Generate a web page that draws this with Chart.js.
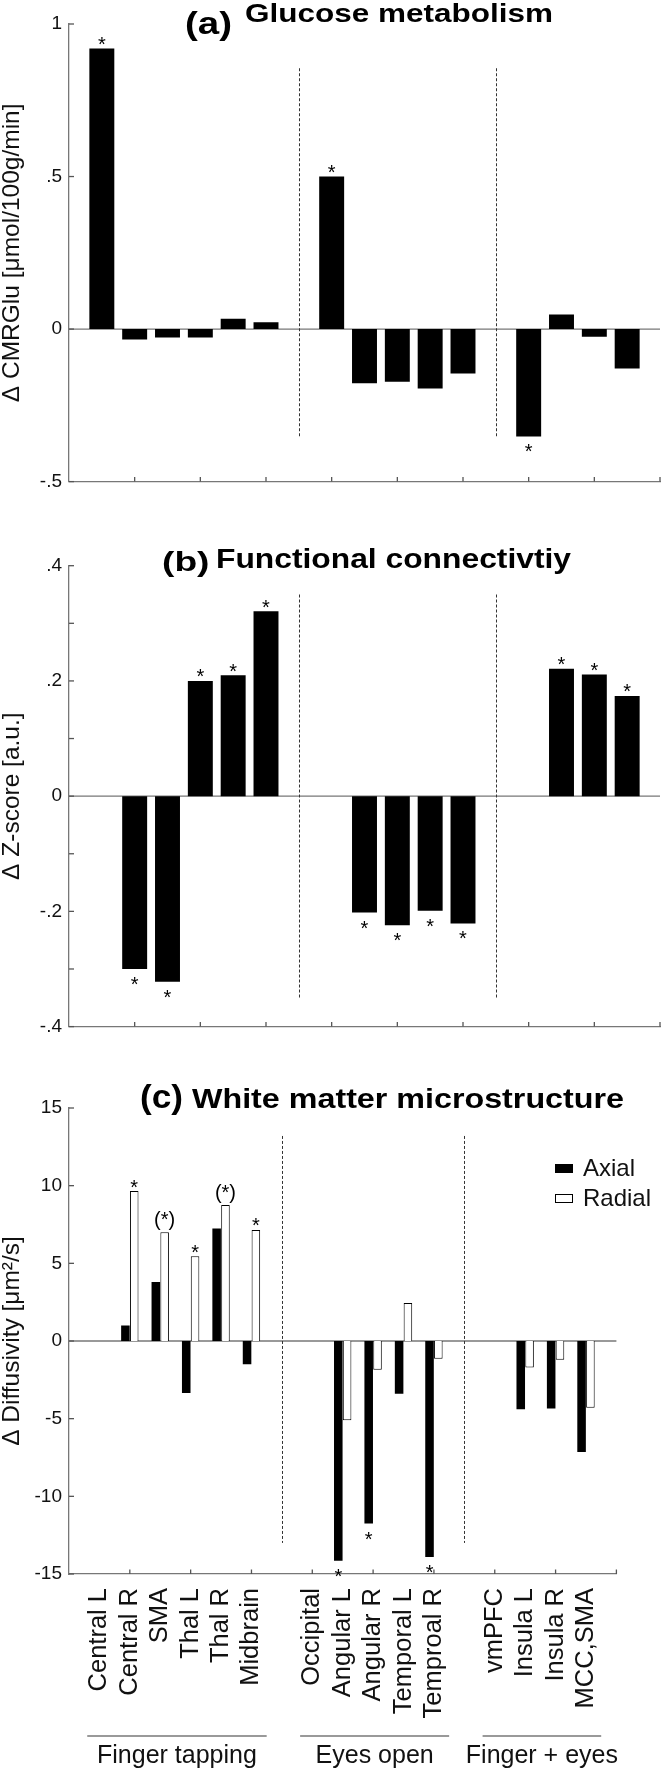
<!DOCTYPE html>
<html>
<head>
<meta charset="utf-8">
<script src="https://cdn.jsdelivr.net/npm/chart.js@4.4.1/dist/chart.umd.min.js"></script>
<style>
html, body { margin: 0; padding: 0; background: #fff; }
#wrap { position: relative; width: 661px; height: 1768px; }
#wrap canvas { position: absolute; left: 0; }
</style>
</head>
<body>
<div id="wrap">
  <canvas id="glu" width="661" height="500" style="top:0px"></canvas>
  <canvas id="fc" width="661" height="545" style="top:500px"></canvas>
  <canvas id="wm" width="661" height="723" style="top:1045px"></canvas>
</div>
<script>
// regions, grouped by task
var groupNames = ['Finger tapping', 'Eyes open', 'Finger + eyes'];
var fingerRegions = ['Central L', 'Central R', 'SMA', 'Thal L', 'Thal R', 'Midbrain'];
var eyesRegions = ['Occipital', 'Angular L', 'Angular R', 'Temporal L', 'Temproal R'];
var bothRegions = ['vmPFC', 'Insula L', 'Insula R', 'MCC,SMA'];

// (a) glucose metabolism
var glucose = [0.92, -0.034, -0.028, -0.028, 0.034, 0.022, 0.50, -0.178, -0.173, -0.195, -0.146, -0.352, 0.048, -0.025, -0.129];
var glucoseSig = ['*', '', '', '', '', '', '*', '', '', '', '', '*', '', '', ''];

// (b) functional connectivity
var connectivity = [null, -0.300, -0.322, 0.200, 0.210, 0.321, null, -0.202, -0.224, -0.199, -0.221, null, 0.221, 0.211, 0.174];
var connectivitySig = ['', '*', '*', '*', '*', '*', '', '*', '*', '*', '*', '', '*', '*', '*'];

// (c) white matter
var axial = [null, 1.0, 3.8, -3.35, 7.25, -1.5, null, -14.15, -11.75, -3.4, -13.9, null, -4.4, -4.35, -7.15];
var radial = [null, 9.65, 7.0, 5.45, 8.75, 7.15, null, -5.1, -1.85, 2.45, -1.15, null, -1.7, -1.2, -4.3];
var axialSig = ['', '', '', '', '', '', '', '*', '*', '', '*', '', '', '', ''];
var radialSig = ['', '*', '(*)', '*', '(*)', '*', '', '', '', '', '', '', '', '', ''];

var FONT = '"Liberation Sans", Arial, Helvetica, sans-serif';
var AXIS = '#777';

var regionGroups = [fingerRegions, eyesRegions, bothRegions];
var slotLabels = [''];
var groupSpans = [];
regionGroups.forEach(function (g) {
  var first = slotLabels.length;
  slotLabels = slotLabels.concat(g);
  groupSpans.push([first, slotLabels.length - 1]);
  slotLabels.push('');
});
var dividers = [groupSpans[0][1] + 1, groupSpans[1][1] + 1];

function toSlots(values) {
  var out = [null], k = 0;
  regionGroups.forEach(function (g) {
    g.forEach(function () { out.push(values[k++]); });
    out.push(null);
  });
  return out;
}

function fmt(v) {
  var s = String(+v.toFixed(2));
  return s.replace(/^(-?)0\./, '$1.');
}

function drawTitle(ctx, t) {
  ctx.save();
  ctx.fillStyle = '#000';
  ctx.textAlign = 'left';
  ctx.textBaseline = 'alphabetic';
  t.forEach(function (p) {
    ctx.font = 'bold ' + p.size + 'px ' + FONT;
    var sx = p.w / ctx.measureText(p.text).width;
    ctx.save();
    ctx.translate(p.x, p.y);
    ctx.scale(sx, 1);
    ctx.fillText(p.text, 0, 0);
    ctx.restore();
  });
  ctx.restore();
}

function decor(cfg) {
  return {
    id: 'decor',
    beforeDatasetsDraw: function (chart) {
      var ctx = chart.ctx, a = chart.chartArea, y = chart.scales.y, x = chart.scales.x;
      ctx.save();
      // zero line
      ctx.strokeStyle = AXIS;
      ctx.lineWidth = 1.3;
      ctx.beginPath();
      ctx.moveTo(a.left, y.getPixelForValue(0));
      ctx.lineTo(a.right, y.getPixelForValue(0));
      ctx.stroke();
      // dashed separators
      ctx.strokeStyle = '#333';
      ctx.lineWidth = 1;
      ctx.setLineDash([3, 2]);
      dividers.forEach(function (d) {
        var px = Math.round(x.getPixelForValue(d)) + 0.5;
        ctx.beginPath();
        ctx.moveTo(px, y.getPixelForValue(cfg.divider[1]));
        ctx.lineTo(px, y.getPixelForValue(cfg.divider[0]));
        ctx.stroke();
      });
      ctx.restore();
    },
    afterDraw: function (chart) {
      var ctx = chart.ctx, a = chart.chartArea, y = chart.scales.y, x = chart.scales.x;
      ctx.save();
      // inward ticks
      ctx.strokeStyle = '#555';
      ctx.lineWidth = 1.3;
      y.ticks.forEach(function (t) {
        var py = y.getPixelForValue(t.value);
        ctx.beginPath();
        ctx.moveTo(a.left, py);
        ctx.lineTo(a.left + 5, py);
        ctx.stroke();
      });
      for (var i = 2; i < slotLabels.length; i += 2) {
        var px = x.getPixelForValue(i);
        ctx.beginPath();
        ctx.moveTo(px, a.bottom);
        ctx.lineTo(px, a.bottom - 4.5);
        ctx.stroke();
      }
      // significance marks
      ctx.fillStyle = '#000';
      ctx.font = '20px ' + FONT;
      ctx.textAlign = 'center';
      ctx.textBaseline = 'alphabetic';
      chart.data.datasets.forEach(function (ds, di) {
        var sig = toSlots(cfg.sig[di]);
        var meta = chart.getDatasetMeta(di);
        meta.data.forEach(function (el, i) {
          var s = sig[i];
          if (!s || ds.data[i] === null) return;
          var yy = ds.data[i] >= 0 ? el.y + (s.indexOf('(') >= 0 ? -6 : 2.5) : el.y + 22;
          ctx.fillText(s, el.x, yy);
        });
      });
      drawTitle(ctx, cfg.title);
      // legend
      if (cfg.legend) {
        ctx.font = '24px ' + FONT;
        ctx.textAlign = 'left';
        chart.data.datasets.forEach(function (ds, di) {
          var top = cfg.legend.y + di * 30;
          ctx.fillStyle = ds.backgroundColor;
          ctx.fillRect(cfg.legend.x, top, 18, 9);
          ctx.strokeStyle = '#000';
          ctx.lineWidth = 1;
          ctx.strokeRect(cfg.legend.x + 0.5, top + 0.5, 17, 8);
          ctx.fillStyle = '#111';
          ctx.fillText(ds.label, cfg.legend.x + 28, top + 12);
        });
      }
      // task groups under the labels
      if (cfg.groups) {
        ctx.font = '25px ' + FONT;
        ctx.textAlign = 'center';
        groupSpans.forEach(function (sp, gi) {
          var x0 = x.getPixelForValue(sp[0] - 0.4), x1 = x.getPixelForValue(sp[1] + 0.5);
          ctx.strokeStyle = AXIS;
          ctx.lineWidth = 1.3;
          ctx.beginPath();
          ctx.moveTo(x0, cfg.groups.line);
          ctx.lineTo(x1, cfg.groups.line);
          ctx.stroke();
          ctx.fillStyle = '#111';
          ctx.fillText(groupNames[gi], (x0 + x1) / 2, cfg.groups.text);
        });
      }
      ctx.restore();
    }
  };
}

function panel(id, cfg) {
  var datasets = cfg.series.map(function (s) {
    return {
      label: s.label,
      data: toSlots(s.values),
      backgroundColor: s.fill,
      borderColor: '#000',
      borderWidth: s.border,
      categoryPercentage: cfg.catPct,
      barPercentage: cfg.barPct
    };
  });
  return new Chart(document.getElementById(id), {
    type: 'bar',
    data: { labels: slotLabels, datasets: datasets },
    options: {
      responsive: false,
      animation: false,
      devicePixelRatio: 1,
      layout: { padding: { top: cfg.padTop, bottom: cfg.padBottom, left: 0, right: 1 } },
      plugins: { legend: { display: false }, tooltip: { enabled: false } },
      scales: {
        x: {
          type: 'category',
          offset: false,
          grid: { display: false, drawTicks: false, offset: false },
          border: { display: true, color: AXIS, width: 1.3 },
          ticks: {
            display: cfg.showLabels,
            autoSkip: false,
            minRotation: 90,
            maxRotation: 90,
            padding: 14,
            color: '#111',
            font: { family: FONT, size: 25.5 }
          },
          afterFit: function (s) { s.height = cfg.xHeight; }
        },
        y: {
          min: cfg.min,
          max: cfg.max,
          grid: { display: false, drawTicks: false },
          border: { display: true, color: AXIS, width: 1.3 },
          ticks: {
            stepSize: cfg.step,
            padding: 7,
            color: '#111',
            font: { family: FONT, size: 19 },
            callback: function (v) {
              var r = v / cfg.labelStep;
              return Math.abs(Math.round(r) - r) > 1e-6 ? '' : fmt(v);
            }
          },
          title: {
            display: true,
            text: cfg.yTitle,
            color: '#111',
            font: { family: FONT, size: 24.5, lineHeight: 1 },
            padding: 0
          },
          afterFit: function (s) { s.width = 69; }
        }
      }
    },
    plugins: [decor(cfg)]
  });
}

panel('glu', {
  series: [{ label: 'Glucose', values: glucose, fill: '#000', border: 0 }],
  sig: [glucoseSig],
  catPct: 1, barPct: 0.76,
  min: -0.5, max: 1, step: 0.5, labelStep: 0.5,
  yTitle: '\u0394 CMRGlu [\u03bcmol/100g/min]',
  padTop: 24, padBottom: 10.7, xHeight: 0, showLabels: false,
  divider: [-0.355, 0.855],
  title: [
    { text: '(a)', size: 31, x: 185, y: 34, w: 47 },
    { text: 'Glucose metabolism', size: 25, x: 245, y: 22, w: 308 }
  ]
});

panel('fc', {
  series: [{ label: 'Connectivity', values: connectivity, fill: '#000', border: 0 }],
  sig: [connectivitySig],
  catPct: 1, barPct: 0.76,
  min: -0.4, max: 0.4, step: 0.1, labelStep: 0.2,
  yTitle: '\u0394 Z-score [a.u.]',
  padTop: 65.7, padBottom: 13.3, xHeight: 0, showLabels: false,
  divider: [-0.35, 0.35],
  title: [
    { text: '(b)', size: 28, x: 162, y: 71, w: 47.5 },
    { text: 'Functional connectivtiy', size: 27, x: 216, y: 68, w: 355 }
  ]
});

panel('wm', {
  series: [
    { label: 'Axial', values: axial, fill: '#000', border: 0 },
    { label: 'Radial', values: radial, fill: '#fff', border: 1 }
  ],
  sig: [axialSig, radialSig],
  catPct: 0.58, barPct: 0.97,
  min: -15, max: 15, step: 5, labelStep: 5,
  yTitle: '\u0394 Diffusivity [\u03bcm\u00b2/s]',
  padTop: 63, padBottom: 0, xHeight: 194, showLabels: true,
  divider: [-13, 13.2],
  legend: { x: 555, y: 119 },
  groups: { line: 691, text: 717.7 },
  title: [
    { text: '(c)', size: 33, x: 140, y: 63, w: 43 },
    { text: 'White matter microstructure', size: 28.5, x: 192, y: 63, w: 432 }
  ]
});
</script>
</body>
</html>
